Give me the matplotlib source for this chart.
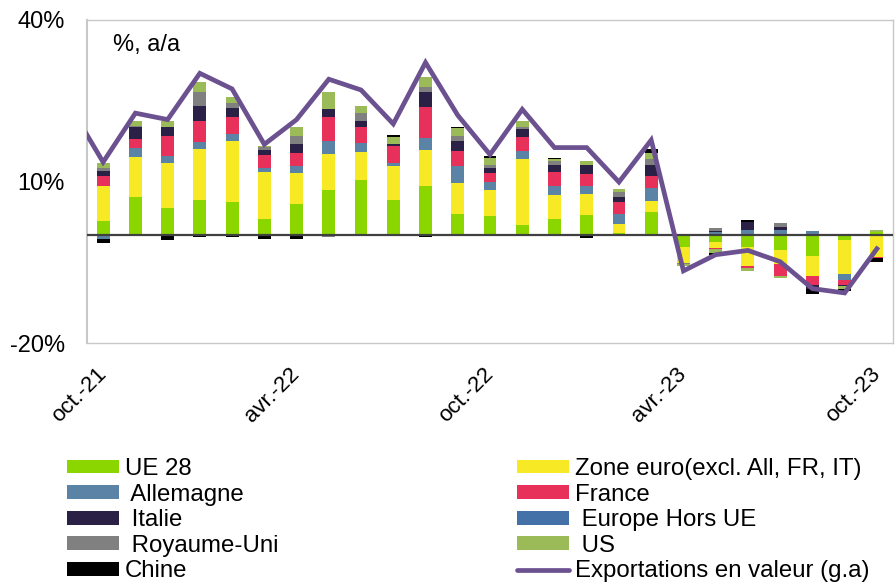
import numpy as np
import matplotlib
matplotlib.use("Agg")
import matplotlib.pyplot as plt
import matplotlib.transforms as mtransforms
from matplotlib.patches import Patch
from matplotlib.lines import Line2D

plt.rcParams['font.family'] = ['Liberation Sans', 'DejaVu Sans']

# Months (line starts one month earlier than bars)
months = ["sept.-21", "oct.-21", "nov.-21", "déc.-21", "janv.-22", "févr.-22", "mars-22",
          "avr.-22", "mai-22", "juin-22", "juil.-22", "août-22", "sept.-22", "oct.-22",
          "nov.-22", "déc.-22", "janv.-23", "févr.-23", "mars-23", "avr.-23", "mai-23",
          "juin-23", "juil.-23", "août-23", "sept.-23", "oct.-23"]
bar_months = months[1:]

ue28 = [2.75, 7.1, 5.1, 6.5, 6.1, 3.1, 5.75, 8.4, 10.3, 6.6, 9.1, 3.9, 3.5, 2.0, 3.0, 3.7, 0.45, 4.4,
        -2.25, -1.2, -2.25, -2.7, -3.8, -0.8, 0.6]
zone_euro = [6.4, 7.5, 8.25, 9.6, 11.5, 8.75, 5.75, 6.75, 5.1, 6.25, 6.75, 5.8, 5.0, 12.2, 4.4, 3.9, 1.6, 1.9,
             -2.8, -1.2, -3.4, -2.6, -3.75, -6.4, -4.0]
allemagne = [-0.7, 1.7, 1.4, 1.2, 1.3, 0.75, 1.4, 2.4, 1.75, 0.6, 2.2, 3.25, 1.4, 1.5, 1.75, 1.6, 1.9, 2.4,
             0.0, 0.55, 0.9, 0.9, 0.75, -1.1, 0.0]
france = [1.9, 1.6, 3.75, 3.9, 3.1, 2.25, 2.4, 4.4, 2.9, 3.2, 5.75, 2.75, 1.75, 2.6, 2.6, 2.2, 2.3, 2.4,
          0.0, -0.2, -0.45, -2.2, -1.6, -0.9, -0.3]
italie = [0.9, 2.2, 1.6, 2.9, 1.6, 1.0, 1.7, 1.6, 1.25, 0.4, 2.9, 1.9, 0.9, 1.5, 1.25, 1.6, 0.9, 1.9,
          0.0, 0.3, 1.55, 0.6, -0.8, -0.3, 0.0]
europe_hors_ue = [0.0] * 25
royaume_uni = [0.5, 0.3, 0.0, 2.5, 1.0, 0.5, 1.5, -0.4, 1.4, 0.0, 0.9, 0.9, 0.5, 0.4, 0.75, 0.0, 0.9, 1.1,
               -0.3, 0.6, 0.0, 0.8, 0.0, 0.0, 0.0]
us = [0.9, 0.9, 1.1, 1.9, 1.1, 0.2, 1.6, 3.1, 1.4, 1.25, 1.8, 1.4, 1.4, 1.1, 0.4, 0.9, 0.5, 1.25,
      -0.3, -0.6, -0.5, -0.45, 0.0, -0.5, 0.4]
chine = [-0.8, 0.0, -0.8, -0.4, -0.4, -0.7, -0.75, 0.0, -0.2, 0.4, -0.3, 0.2, 0.2, 0.0, 0.25, -0.5, 0.0, 0.75,
         0.0, -0.5, 0.45, 0.0, -0.9, -0.4, -0.6]

exportations = [23.7, 13.6, 22.7, 21.5, 30.1, 27.2, 16.9, 21.5, 29.0, 27.0, 20.7, 32.1, 22.3, 15.0, 23.4,
                16.3, 16.3, 9.9, 17.7, -6.6, -3.6, -2.8, -4.9, -9.9, -10.7, -2.5]

series_names = ["UE 28", "Zone euro(excl. All, FR, IT)", " Allemagne", "France", " Italie",
                " Europe Hors UE", " Royaume-Uni", " US", "Chine"]
series_vals = [ue28, zone_euro, allemagne, france, italie, europe_hors_ue, royaume_uni, us, chine]
series_colors = ["#8CD600", "#F7EA25", "#5B83A6", "#E8315A", "#2B2045", "#4472A8", "#808080",
                 "#9BBB59", "#000000"]
line_name = "Exportations en valeur (g.a)"
line_color = "#6B5190"

yticks = [-20, 10, 40]
ytick_labels = ["-20%", "10%", "40%"]

FS = 17
XFS = 16
LFS = 17.3

fig = plt.figure(figsize=(8.96, 5.83), dpi=100)
ax = fig.add_axes([87/896, 1 - 343/583, (893-87)/896, (343-20)/583])

xb = np.arange(len(bar_months))
pos_bottom = np.zeros(len(xb))
neg_bottom = np.zeros(len(xb))
for vals, col in zip(series_vals, series_colors):
    v = np.array(vals, dtype=float)
    p = np.where(v > 0, v, 0)
    n = np.where(v < 0, v, 0)
    ax.bar(xb, p, width=0.4, bottom=pos_bottom, color=col, zorder=2, linewidth=0)
    ax.bar(xb, n, width=0.4, bottom=neg_bottom, color=col, zorder=2, linewidth=0)
    pos_bottom += p
    neg_bottom += n

ax.axhline(0, color="#404040", lw=1.6, zorder=3)

xl = np.arange(-1, len(bar_months))
ax.plot(xl, exportations, color=line_color, lw=3.4, zorder=4, solid_joinstyle='miter')

ax.set_xlim(-0.5, len(bar_months) - 0.5)
ax.set_ylim(-20, 40)
ax.set_yticks(yticks)
ax.set_yticklabels(ytick_labels, fontsize=FS)
tick_idx = [0, 6, 12, 18, 24]
ax.set_xticks(tick_idx)
ax.set_xticklabels([bar_months[i] for i in tick_idx], fontsize=XFS, rotation=45,
                   ha='right', va='center', rotation_mode='anchor')
offset = mtransforms.ScaledTranslation(4/100, 0, fig.dpi_scale_trans)
for lab in ax.get_xticklabels():
    lab.set_transform(lab.get_transform() + offset)
ax.tick_params(axis='both', length=0)
ax.tick_params(axis='y', pad=16)
ax.tick_params(axis='x', pad=20)
for s in ax.spines.values():
    s.set_color("#C8C8C8")
    s.set_linewidth(1.0)
ax.spines['left'].set_linewidth(1.5)

ax.text(113/896, 1 - 45/583, "%, a/a", transform=fig.transFigure, fontsize=FS,
        ha='left', va='center')

handles = [Patch(facecolor=c, edgecolor='none') for c in series_colors]
handles.append(Line2D([0], [0], color=line_color, lw=3.4, solid_capstyle='round'))
labels = series_names + [line_name]

left_idx = [0, 2, 4, 6, 8]
right_idx = [1, 3, 5, 7, 9]
common = dict(frameon=False, fontsize=LFS, handlelength=2.15, handleheight=0.5,
              handletextpad=0.25, labelspacing=0.15, borderpad=0, borderaxespad=0)
leg1 = fig.legend([handles[i] for i in left_idx], [labels[i] for i in left_idx],
                  loc='upper left', bbox_to_anchor=(67/896, 1 - 458/583), **common)
leg2 = fig.legend([handles[i] for i in right_idx], [labels[i] for i in right_idx],
                  loc='upper left', bbox_to_anchor=(517/896, 1 - 458/583), **common)

fig.savefig("out.png", dpi=100)
